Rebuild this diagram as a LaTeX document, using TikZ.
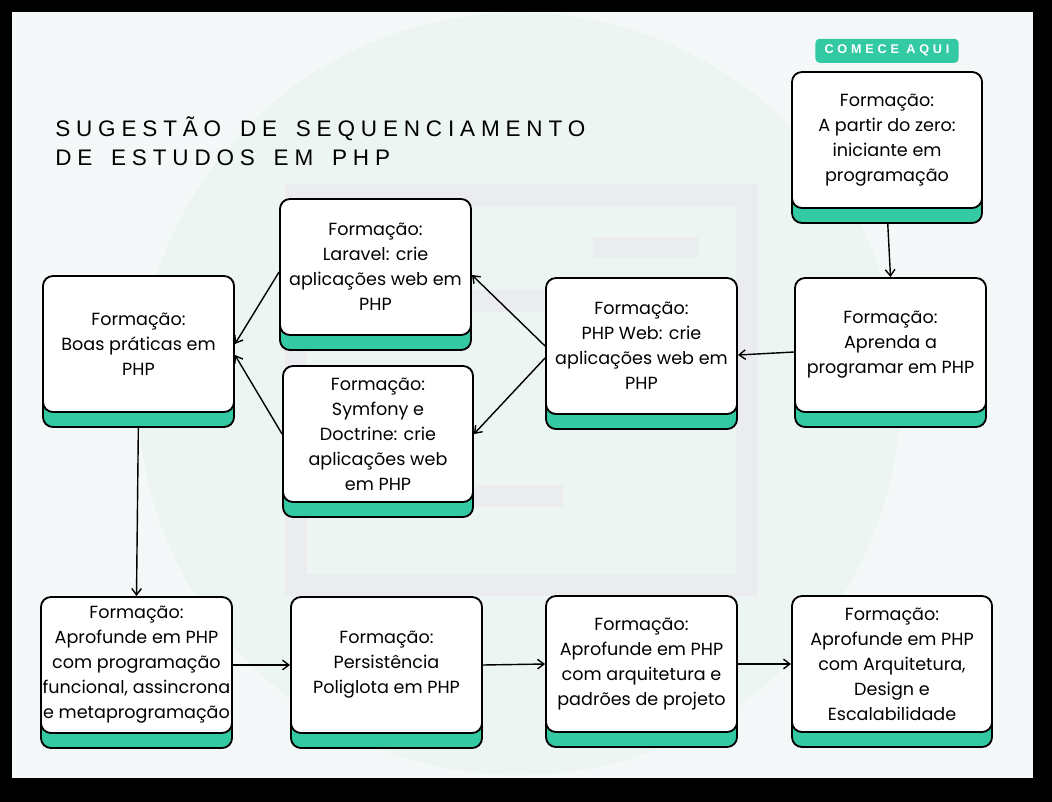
\documentclass[tikz,border=0pt]{standalone}
\usepackage{fontspec}
\setmainfont{Poppins}
\newfontfamily\titlefont[LetterSpace=26, WordSpace=1.55]{Liberation Sans}
\newfontfamily\tagfont[LetterSpace=30]{Liberation Sans}
\usetikzlibrary{arrows.meta, positioning, shadows}

\definecolor{mint}{RGB}{50,201,163}
\definecolor{pagebg}{RGB}{245,248,249}
\definecolor{circlebg}{RGB}{236,245,242}
\definecolor{docgray}{RGB}{234,236,239}

\begin{document}
\begin{tikzpicture}[x=0.025cm, y=-0.025cm,
    font=\fontsize{12.5}{17.8}\selectfont,
    course/.style={draw, line width=1.3pt, rounded corners=2.5mm, fill=white,
      minimum width=47.75mm, minimum height=34mm, align=center, inner sep=1pt,
      copy shadow={shadow xshift=0mm, shadow yshift=-3.75mm, fill=mint, draw=black, line width=1.3pt}},
    tag/.style={fill=mint, rounded corners=1mm, minimum width=35.75mm, minimum height=6mm,
      text=white, font=\tagfont\bfseries\fontsize{9}{10}\selectfont},
    arrow/.style={-{Straight Barb[length=1.6mm, width=2.4mm]}, line width=1pt}
  ]
  % background
  \useasboundingbox (0,0) rectangle (1052,802);
  \fill[black] (0,0) rectangle (1052,802);
  \fill[pagebg] (12,12) rectangle (1033,778);
  \begin{scope}
    \clip (12,12) rectangle (1033,778);
    \fill[circlebg] (519,394) circle [radius=9.525cm];
  \end{scope}
  \draw[docgray, line width=5.5mm] (296,195) rectangle (747,585);
  \fill[docgray] (593,237) rectangle (698,258);
  \fill[docgray] (470,290) rectangle (544,312);
  \fill[docgray] (470,485) rectangle (563,507);

  \node[anchor=north west, inner sep=0pt, align=left,
    font=\titlefont\fontsize{16}{21.3}\selectfont] (title) at (55,116)
    {SUGESTÃO DE SEQUENCIAMENTO\\DE ESTUDOS EM PHP};

  % courses
  \node[course, minimum width=47.5mm] (start) at (887,140) {Formação:\\A partir do zero:\\iniciante em\\programação};
  \node[tag, above=2mm of start] (comece) {COMECE AQUI};
  \node[course, minimum height=33.5mm] (aprenda) at (890.5,345) {Formação:\\Aprenda a\\programar em PHP};
  \node[course] (phpweb) at (641.5,346) {Formação:\\PHP Web: crie\\aplicações web em\\PHP};
  \node[course] (laravel) at (375.5,267) {Formação:\\Laravel: crie\\aplicações web em\\PHP};
  \node[course, minimum width=47.5mm] (symfony) at (378,434) {Formação:\\Symfony e\\Doctrine: crie\\aplicações web\\em PHP};
  \node[course] (boas) at (138.5,344) {Formação:\\Boas práticas em\\PHP};
  \node[course] (funcional) at (136.5,665) {Formação:\\Aprofunde em PHP\\com programação\\funcional, assincrona\\e metaprogramação};
  \node[course] (persist) at (386.5,665) {Formação:\\Persistência\\Poliglota em PHP};
  \node[course] (arquit) at (641.5,664) {Formação:\\Aprofunde em PHP\\com arquitetura e\\padrões de projeto};
  \node[course, minimum width=50mm] (escal) at (892,664) {Formação:\\Aprofunde em PHP\\com Arquitetura,\\Design e\\Escalabilidade};

  % sequence
  \draw[arrow, shorten <=3.75mm] (start.south) -- (aprenda.north);
  \draw[arrow] ([yshift=-1.75mm]aprenda.west) -- ([yshift=-2.25mm]phpweb.east);
  \draw[arrow] (phpweb.west) -- ([yshift=-2mm]laravel.east);
  \draw[arrow] ([yshift=-3mm]phpweb.west) -- (symfony.east);
  \draw[arrow] ([yshift=-1.25mm]laravel.west) -- (boas.east);
  \draw[arrow] (symfony.west) -- ([yshift=-2.75mm]boas.east);
  \draw[arrow, shorten <=3.75mm] (boas.south) -- (funcional.north);
  \draw[arrow] (funcional.east) -- (persist.west);
  \draw[arrow] (persist.east) -- (arquit.west);
  \draw[arrow] (arquit.east) -- (escal.west);
\end{tikzpicture}
\end{document}
